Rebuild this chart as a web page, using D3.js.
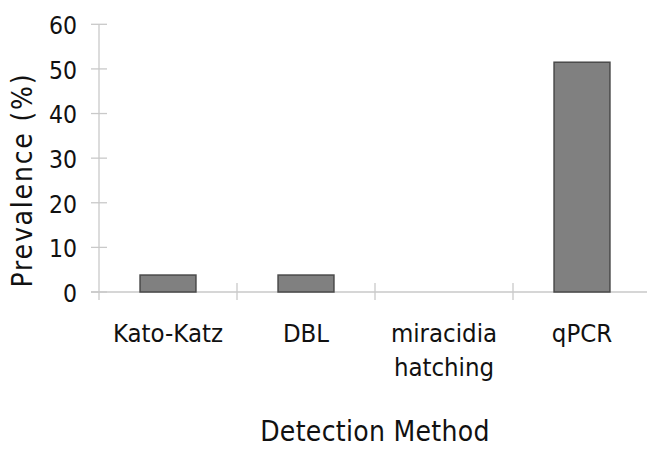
<!DOCTYPE html>
<html>
<head>
<meta charset="utf-8">
<script src="https://cdn.jsdelivr.net/npm/d3@7"></script>
<style>
  body { margin: 0; background: #fff; }
  text { font-family: "DejaVu Sans Condensed", "DejaVu Sans", sans-serif; fill: #111; }
</style>
</head>
<body>
<script>
// chart data
const categories = ["Kato-Katz", "DBL", "miracidia hatching", "qPCR"];
const prevalence = [3.8, 3.8, 0, 51.5];
const yTicks = [0, 10, 20, 30, 40, 50, 60];

const W = 647, H = 449;
const axisColor = "#c9c9c9";

const svg = d3.select("body").append("svg")
  .attr("width", W)
  .attr("height", H);

// scales
const xScale = d3.scaleBand().domain(categories).range([99, 651]).padding(0);
const yScale = d3.scaleLinear().domain([0, 60]).range([292, 24.3]);

const data = categories.map((c, i) => ({ c, v: prevalence[i] }));

// y axis line and ticks (ticks cross the axis)
svg.append("line")
  .attr("x1", 99).attr("x2", 99)
  .attr("y1", yScale(60)).attr("y2", 300)
  .attr("stroke", axisColor).attr("stroke-width", 1.3);

svg.selectAll(".ytick").data(yTicks).enter().append("line")
  .attr("x1", 91).attr("x2", 107)
  .attr("y1", d => yScale(d)).attr("y2", d => yScale(d))
  .attr("stroke", axisColor).attr("stroke-width", 1.3);

svg.selectAll(".ylab").data(yTicks).enter().append("text")
  .attr("x", 77)
  .attr("y", d => yScale(d))
  .attr("dy", "0.4em")
  .attr("text-anchor", "end")
  .attr("font-size", 24.5)
  .text(d => d);

// x axis line and category separators
svg.append("line")
  .attr("x1", 91).attr("x2", W)
  .attr("y1", yScale(0)).attr("y2", yScale(0))
  .attr("stroke", axisColor).attr("stroke-width", 1.3);

svg.selectAll(".xtick").data(categories.slice(1)).enter().append("line")
  .attr("x1", d => xScale(d)).attr("x2", d => xScale(d))
  .attr("y1", 283).attr("y2", 300)
  .attr("stroke", axisColor).attr("stroke-width", 1.3);

// bars
const bw = xScale.bandwidth() * 0.405;
svg.selectAll(".bar").data(data.filter(d => d.v > 0)).enter().append("rect")
  .attr("x", d => xScale(d.c) + (xScale.bandwidth() - bw) / 2)
  .attr("y", d => yScale(d.v))
  .attr("width", bw)
  .attr("height", d => yScale(0) - yScale(d.v))
  .attr("fill", "#808080")
  .attr("stroke", "#4a4a4a")
  .attr("stroke-width", 1.5);

// category labels, split onto lines at spaces
const labels = svg.selectAll(".xlab").data(categories).enter().append("text")
  .attr("x", d => xScale(d) + xScale.bandwidth() / 2)
  .attr("y", 342)
  .attr("text-anchor", "middle")
  .attr("font-size", 25.5);

labels.selectAll("tspan").data(d => d.split(" ")).enter().append("tspan")
  .attr("x", function () { return d3.select(this.parentNode).attr("x"); })
  .attr("dy", (d, i) => i === 0 ? 0 : 34)
  .text(d => d);

// axis titles
svg.append("text")
  .attr("x", (xScale.range()[0] + xScale.range()[1]) / 2)
  .attr("y", 441)
  .attr("text-anchor", "middle")
  .attr("font-size", 28)
  .attr("letter-spacing", 0.3)
  .text("Detection Method");

svg.append("text")
  .attr("transform", "rotate(-90)")
  .attr("x", -180)
  .attr("y", 32)
  .attr("text-anchor", "middle")
  .attr("font-size", 28)
  .attr("letter-spacing", 1.8)
  .text("Prevalence (%)");
</script>
</body>
</html>
